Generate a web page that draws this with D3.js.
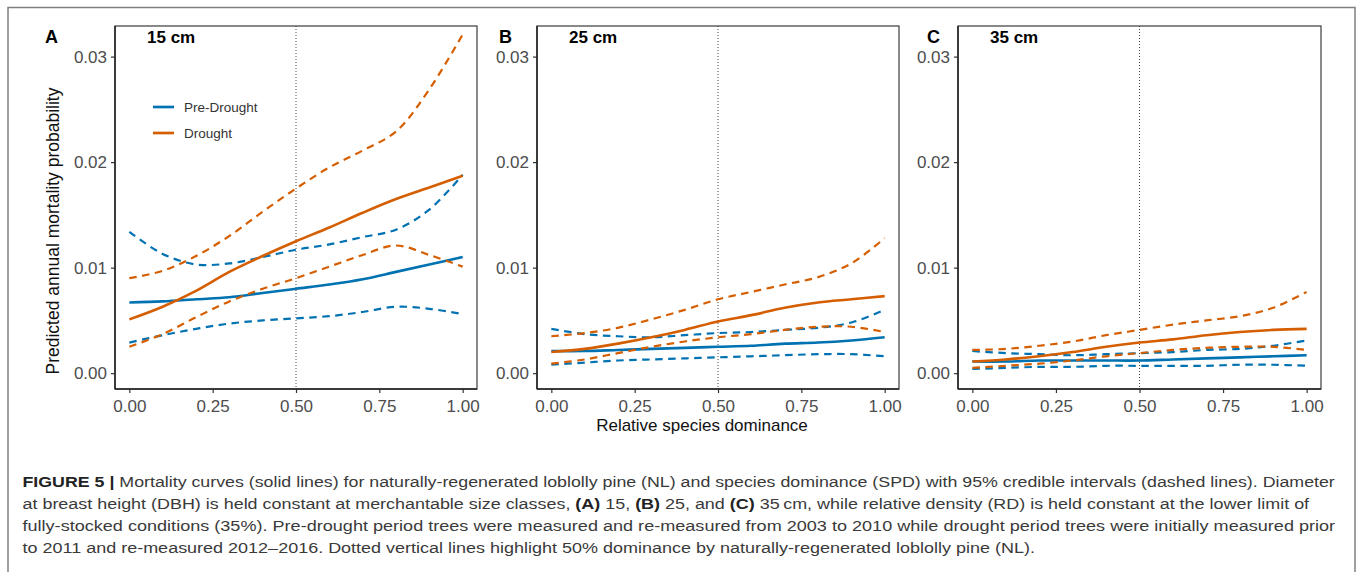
<!DOCTYPE html>
<html>
<head>
<meta charset="utf-8">
<script src="https://cdn.jsdelivr.net/npm/d3@7"></script>
<style>
  html, body { margin: 0; padding: 0; background: #fff; }
  svg { display: block; }
</style>
</head>
<body>
<svg id="chart" width="1358" height="577"></svg>
<script>
// ---------------- DATA ----------------
const dominance = [0.0, 0.1, 0.2, 0.3, 0.4, 0.5, 0.6, 0.7, 0.8, 0.9, 1.0];

const panelLetters = ["A", "B", "C"];
const panelTitles = ["15 cm", "25 cm", "35 cm"];
const seriesNames = ["Pre-Drought", "Drought"];
const yTicks = [0.00, 0.01, 0.02, 0.03];
const xTicks = [0.00, 0.25, 0.50, 0.75, 1.00];

// Panel A (15 cm)
const preMeanA  = [0.0067, 0.0068, 0.0070, 0.0072, 0.0076, 0.0080, 0.0084, 0.0089, 0.0096, 0.0103, 0.0110];
const preLowA   = [0.0029, 0.0036, 0.0042, 0.0047, 0.0050, 0.0052, 0.0054, 0.0058, 0.0063, 0.0061, 0.0056];
const preHighA  = [0.0134, 0.0113, 0.0103, 0.0104, 0.0110, 0.0117, 0.0122, 0.0129, 0.0136, 0.0155, 0.0188];
const drMeanA   = [0.0051, 0.0063, 0.0078, 0.0096, 0.0111, 0.0125, 0.0138, 0.0152, 0.0165, 0.0176, 0.0187];
const drLowA    = [0.0025, 0.0037, 0.0053, 0.0068, 0.0080, 0.0090, 0.0101, 0.0112, 0.0121, 0.0112, 0.0101];
const drHighA   = [0.0090, 0.0097, 0.0111, 0.0130, 0.0153, 0.0175, 0.0195, 0.0211, 0.0229, 0.0269, 0.0321];

// Panel B (25 cm)
const preMeanB  = [0.0021, 0.0021, 0.0022, 0.0023, 0.0024, 0.0025, 0.0026, 0.0028, 0.0029, 0.0031, 0.0034];
const preLowB   = [0.0008, 0.0010, 0.0012, 0.0013, 0.0014, 0.0015, 0.0016, 0.0017, 0.0018, 0.0018, 0.0016];
const preHighB  = [0.0042, 0.0037, 0.0035, 0.0034, 0.0036, 0.0038, 0.0039, 0.0041, 0.0043, 0.0048, 0.0060];
const drMeanB   = [0.0020, 0.0023, 0.0028, 0.0034, 0.0041, 0.0049, 0.0055, 0.0062, 0.0067, 0.0070, 0.0073];
const drLowB    = [0.0009, 0.0013, 0.0019, 0.0025, 0.0030, 0.0034, 0.0037, 0.0041, 0.0044, 0.0044, 0.0039];
const drHighB   = [0.0035, 0.0038, 0.0043, 0.0051, 0.0060, 0.0070, 0.0077, 0.0084, 0.0091, 0.0104, 0.0128];

// Panel C (35 cm)
const preMeanC  = [0.0011, 0.0011, 0.0012, 0.0012, 0.0012, 0.0012, 0.0013, 0.0014, 0.0015, 0.0016, 0.0017];
const preLowC   = [0.0004, 0.0005, 0.0006, 0.0006, 0.0007, 0.0007, 0.0007, 0.0007, 0.0008, 0.0008, 0.0007];
const preHighC  = [0.0021, 0.0019, 0.0018, 0.0017, 0.0018, 0.0019, 0.0020, 0.0022, 0.0023, 0.0026, 0.0031];
const drMeanC   = [0.0011, 0.0013, 0.0016, 0.0020, 0.0025, 0.0029, 0.0032, 0.0036, 0.0039, 0.0041, 0.0042];
const drLowC    = [0.0005, 0.0007, 0.0009, 0.0012, 0.0016, 0.0019, 0.0022, 0.0024, 0.0025, 0.0025, 0.0022];
const drHighC   = [0.0022, 0.0023, 0.0026, 0.0030, 0.0036, 0.0041, 0.0046, 0.0050, 0.0054, 0.0062, 0.0077];

const captionLines = [
  [["FIGURE 5 | ", true], ["Mortality curves (solid lines) for naturally-regenerated loblolly pine (NL) and species dominance (SPD) with 95% credible intervals (dashed lines). Diameter", false]],
  [["at breast height (DBH) is held constant at merchantable size classes, ", false], ["(A)", true], [" 15, ", false], ["(B)", true], [" 25, and ", false], ["(C)", true], [" 35\u2009cm, while relative density (RD) is held constant at the lower limit of", false]],
  [["fully-stocked conditions (35%). Pre-drought period trees were measured and re-measured from 2003 to 2010 while drought period trees were initially measured prior", false]],
  [["to 2011 and re-measured 2012\u20132016. Dotted vertical lines highlight 50% dominance by naturally-regenerated loblolly pine (NL).", false]]
];

// ---------------- DRAW ----------------
const svg = d3.select("#chart");
const FONT = "'Liberation Sans', Arial, Helvetica, sans-serif";
const colors = { pre: "#0072B2", drought: "#D55E00" };

// outer frame
svg.append("path")
  .attr("d", "M8,572 L8,7.5 L1355,7.5 L1355,572")
  .attr("fill", "none").attr("stroke", "#808080").attr("stroke-width", 1.5);

const panels = [
  { left: 115, right: 477, pre: [preMeanA, preLowA, preHighA], dr: [drMeanA, drLowA, drHighA] },
  { left: 537, right: 899, pre: [preMeanB, preLowB, preHighB], dr: [drMeanB, drLowB, drHighB] },
  { left: 958, right: 1321, pre: [preMeanC, preLowC, preHighC], dr: [drMeanC, drLowC, drHighC] }
];
const plotTop = 26, plotBottom = 389;
const letterX = [45, 499, 927];

panels.forEach((p, i) => {
  const x = d3.scaleLinear().domain([-0.043, 1.043]).range([p.left, p.right]);
  const y = d3.scaleLinear().domain([-0.0015, 0.0329]).range([plotBottom, plotTop]);
  const g = svg.append("g");

  // panel border
  g.append("rect").attr("x", p.left).attr("y", plotTop)
    .attr("width", p.right - p.left).attr("height", plotBottom - plotTop)
    .attr("fill", "none").attr("stroke", "#4a4a4a").attr("stroke-width", 1.3);

  // dotted vertical reference line
  g.append("line")
    .attr("x1", x(0.5)).attr("x2", x(0.5)).attr("y1", plotTop).attr("y2", plotBottom)
    .attr("stroke", "#444").attr("stroke-width", 1).attr("stroke-dasharray", "1,2");

  const line = d3.line().x((d, k) => x(dominance[k])).y(d => y(d)).curve(d3.curveCatmullRom.alpha(0.5));

  const drawSet = (set, color) => {
    [set[1], set[2]].forEach(arr => {
      g.append("path").attr("d", line(arr)).attr("fill", "none")
        .attr("stroke", color).attr("stroke-width", 2.2).attr("stroke-dasharray", "7.5,5.5");
    });
    g.append("path").attr("d", line(set[0])).attr("fill", "none")
      .attr("stroke", color).attr("stroke-width", 2.6);
  };
  drawSet(p.pre, colors.pre);
  drawSet(p.dr, colors.drought);

  // axes
  const ya = g.append("g").attr("transform", `translate(${p.left},0)`)
    .call(d3.axisLeft(y).tickValues(yTicks).tickFormat(d3.format(".2f")).tickSize(4).tickPadding(4));
  const xa = g.append("g").attr("transform", `translate(0,${plotBottom})`)
    .call(d3.axisBottom(x).tickValues(xTicks).tickFormat(d3.format(".2f")).tickSize(4).tickPadding(6.5));
  [ya, xa].forEach(a => {
    a.select(".domain").remove();
    a.selectAll(".tick line").attr("stroke", "#333").attr("stroke-width", 1.2);
    a.selectAll(".tick text").attr("fill", "#4d4d4d").style("font-family", FONT).style("font-size", "17px");
  });
  // left & bottom axis lines
  g.append("line").attr("x1", p.left).attr("x2", p.left).attr("y1", plotTop).attr("y2", plotBottom)
    .attr("stroke", "#222").attr("stroke-width", 1.5);
  g.append("line").attr("x1", p.left).attr("x2", p.right).attr("y1", plotBottom).attr("y2", plotBottom)
    .attr("stroke", "#222").attr("stroke-width", 1.5);

  // panel letter & title
  g.append("text").attr("x", letterX[i]).attr("y", 43)
    .style("font-family", FONT).style("font-size", "18px").style("font-weight", "bold")
    .attr("fill", "#000").text(panelLetters[i]);
  g.append("text").attr("x", p.left + 32).attr("y", 43)
    .style("font-family", FONT).style("font-size", "17px").style("font-weight", "bold")
    .attr("fill", "#000").text(panelTitles[i]);
});

// legend (panel A)
const legend = svg.append("g");
[["pre", 107], ["drought", 133]].forEach(([k, yy], j) => {
  legend.append("line").attr("x1", 153).attr("x2", 174).attr("y1", yy).attr("y2", yy)
    .attr("stroke", colors[k]).attr("stroke-width", 2.7);
  legend.append("text").attr("x", 184).attr("y", yy + 5)
    .style("font-family", FONT).style("font-size", "13.5px").attr("fill", "#333")
    .text(seriesNames[j]);
});

// axis titles
svg.append("text")
  .attr("transform", "translate(59,231) rotate(-90)")
  .attr("text-anchor", "middle")
  .style("font-family", FONT).style("font-size", "17.5px").attr("fill", "#111")
  .text("Predicted annual mortality probability");
svg.append("text")
  .attr("x", 702).attr("y", 431).attr("text-anchor", "middle")
  .style("font-family", FONT).style("font-size", "17px").attr("fill", "#111")
  .text("Relative species dominance");

// caption
const capX = 22.5;
const capBase = [487.3, 509.3, 531.3, 553.3];
const capTargets = [1336, 1310, 1336, 1036];
captionLines.forEach((parts, li) => {
  const t = svg.append("text").attr("x", capX).attr("y", capBase[li])
    .style("font-family", FONT).style("font-size", "15.5px").attr("fill", "#3a3a3a");
  parts.forEach(([s, b]) => {
    t.append("tspan").text(s).style("font-weight", b ? "bold" : "normal").attr("fill", b ? "#222" : "#3a3a3a");
  });
  const w = t.node().getComputedTextLength();
  const sx = (capTargets[li] - capX) / w;
  t.attr("transform", `translate(${capX},0) scale(${sx},1) translate(${-capX},0)`);
});
</script>
</body>
</html>
